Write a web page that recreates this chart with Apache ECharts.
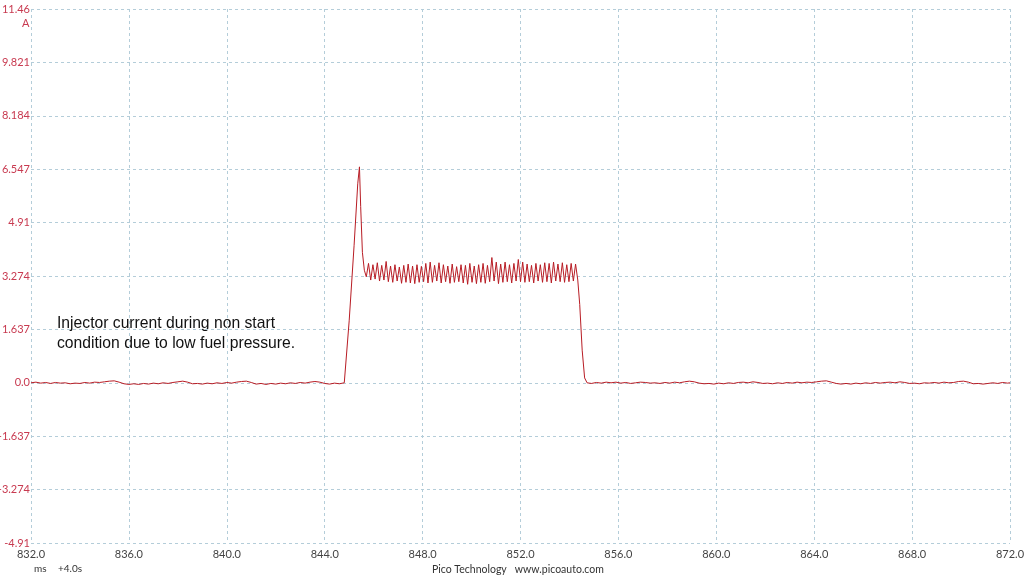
<!DOCTYPE html>
<html>
<head>
<meta charset="utf-8">
<script src="https://cdn.jsdelivr.net/npm/echarts@6/dist/echarts.min.js"></script>
<style>
html,body{margin:0;padding:0;background:#fff;}
#chart{width:1024px;height:576px;}
</style>
</head>
<body>
<div id="chart"></div>
<script>
// Time in ms (display offset +4.0s), current in A
const xMin = 832, xMax = 872, xStep = 4;
const yTickLabels = ['-4.91','-3.274','-1.637','0.0','1.637','3.274','4.91','6.547','8.184','9.821','11.46'];
const yStep = 1.637;

const preSamples = [
[832.0,0.00],[832.2,0.02],[832.4,-0.01],[832.6,0.01],[832.8,-0.02],[833.0,0.01],[833.2,-0.01],[833.4,0.00],
[833.6,-0.03],[833.8,-0.01],[834.0,-0.02],[834.2,0.01],[834.4,-0.01],[834.6,0.02],[834.8,0.01],[835.0,0.03],
[835.2,0.05],[835.4,0.06],[835.6,0.02],[835.8,-0.03],[836.0,-0.05],[836.2,-0.03],[836.4,-0.05],[836.6,-0.02],
[836.8,-0.04],[837.0,-0.01],[837.2,-0.03],[837.4,0.00],[837.6,-0.02],[837.8,0.01],[838.0,0.03],[838.2,0.05],
[838.4,0.02],[838.6,-0.03],[838.8,-0.02],[839.0,-0.04],[839.2,-0.01],[839.4,-0.03],[839.6,0.00],[839.8,-0.02],
[840.0,0.01],[840.2,-0.01],[840.4,0.02],[840.6,0.04],[840.8,0.05],[841.0,0.01],[841.2,-0.04],[841.4,-0.02],
[841.6,-0.05],[841.8,-0.02],[842.0,-0.04],[842.2,-0.01],[842.4,-0.03],[842.6,0.00],[842.8,-0.02],[843.0,0.01],
[843.2,-0.01],[843.4,0.02],[843.6,0.04],[843.8,0.02],[844.0,-0.02],[844.2,-0.04],[844.4,-0.01],[844.6,-0.03],
[844.8,0.00]
];

const riseSamples = [
[845.0,1.9],[845.2,4.2],[845.35,6.1],[845.42,6.62],[845.47,5.4],[845.54,4.0],[845.62,3.45]
];

const pulseSamples = [
[845.70,3.25],[845.79,3.66],[845.88,3.15],[845.97,3.62],[846.06,3.18],[846.15,3.68],[846.24,3.12],[846.33,3.60],
[846.42,3.15],[846.51,3.72],[846.60,3.10],[846.69,3.58],[846.78,3.08],[846.87,3.62],[846.96,3.12],[847.05,3.55],
[847.14,3.05],[847.23,3.60],[847.32,3.08],[847.41,3.64],[847.50,3.06],[847.59,3.58],[847.68,3.04],[847.77,3.62],
[847.86,3.08],[847.95,3.57],[848.04,3.10],[848.13,3.66],[848.22,3.06],[848.31,3.70],[848.40,3.08],[848.49,3.60],
[848.58,3.12],[848.67,3.68],[848.76,3.06],[848.85,3.62],[848.94,3.10],[849.03,3.58],[849.12,3.05],[849.21,3.64],
[849.30,3.08],[849.39,3.56],[849.48,3.10],[849.57,3.62],[849.66,3.06],[849.75,3.60],[849.84,3.02],[849.93,3.66],
[850.02,3.08],[850.11,3.58],[850.20,3.04],[850.29,3.62],[850.38,3.08],[850.47,3.66],[850.56,3.05],[850.65,3.60],
[850.74,3.10],[850.83,3.84],[850.92,3.12],[851.01,3.70],[851.10,3.04],[851.19,3.64],[851.28,3.08],[851.37,3.70],
[851.46,3.10],[851.55,3.62],[851.64,3.06],[851.73,3.66],[851.82,3.12],[851.91,3.78],[852.00,3.10],[852.09,3.70],
[852.18,3.08],[852.27,3.64],[852.36,3.10],[852.45,3.60],[852.54,3.06],[852.63,3.66],[852.72,3.12],[852.81,3.62],
[852.90,3.08],[852.99,3.68],[853.08,3.10],[853.17,3.66],[853.26,3.06],[853.35,3.70],[853.44,3.12],[853.53,3.64],
[853.62,3.10],[853.71,3.68],[853.80,3.08],[853.89,3.62],[853.98,3.10],[854.07,3.66],[854.16,3.12],[854.25,3.64],
[854.34,3.15]
];

const fallSamples = [
[854.42,2.4],[854.52,1.0],[854.62,0.15],[854.72,0.00]
];

const postSamples = [
[854.9,-0.02],[855.1,0.01],[855.3,-0.01],[855.5,0.02],[855.7,0.00],[855.9,0.02],[856.1,-0.01],[856.3,0.01],
[856.5,-0.02],[856.7,0.00],[856.9,0.02],[857.1,0.01],[857.3,-0.01],[857.5,0.00],[857.7,-0.02],[857.9,0.01],
[858.1,-0.01],[858.3,0.02],[858.5,0.00],[858.7,0.03],[858.9,0.05],[859.1,0.03],[859.3,-0.01],[859.5,-0.03],
[859.7,-0.02],[859.9,-0.04],[860.1,-0.01],[860.3,-0.03],[860.5,0.00],[860.7,-0.02],[860.9,0.01],[861.1,0.02],
[861.3,0.00],[861.5,0.03],[861.7,0.01],[861.9,-0.02],[862.1,-0.01],[862.3,-0.03],[862.5,0.00],[862.7,-0.02],
[862.9,0.01],[863.1,-0.01],[863.3,0.02],[863.5,0.00],[863.7,0.02],[863.9,0.01],[864.1,0.03],[864.3,0.05],
[864.5,0.06],[864.7,0.02],[864.9,-0.02],[865.1,-0.04],[865.3,-0.02],[865.5,-0.04],[865.7,-0.01],[865.9,-0.03],
[866.1,0.00],[866.3,-0.02],[866.5,0.01],[866.7,-0.01],[866.9,0.01],[867.1,0.02],[867.3,0.00],[867.5,0.03],
[867.7,0.01],[867.9,-0.02],[868.1,-0.01],[868.3,-0.03],[868.5,0.00],[868.7,-0.01],[868.9,0.01],[869.1,-0.01],
[869.3,0.02],[869.5,0.00],[869.7,0.01],[869.9,0.04],[870.1,0.05],[870.3,0.02],[870.5,-0.03],[870.7,-0.02],
[870.9,-0.04],[871.1,-0.02],[871.3,0.00],[871.5,-0.02],[871.7,0.01],[871.9,-0.01],[872.0,0.00]
];

const annotationLines = ['Injector current during non start', 'condition due to low fuel pressure.'];

const waveform = [].concat(preSamples, riseSamples, pulseSamples, fallSamples, postSamples);

const chart = echarts.init(document.getElementById('chart'), null, {renderer: 'canvas'});
const gridColor = '#b4cdd9';
const labelFont = 'Lato, "Noto Sans", sans-serif';
chart.setOption({
  animation: false,
  backgroundColor: '#ffffff',
  grid: {left: 31, right: 14, top: 9, bottom: 33, containLabel: false, outerBoundsMode: 'none'},
  xAxis: {
    type: 'value', min: xMin, max: xMax, interval: xStep,
    axisLine: {show: false}, axisTick: {show: false},
    splitLine: {show: true, lineStyle: {color: gridColor, type: [3, 3], width: 1}},
    axisLabel: {color: '#444444', fontSize: 11, fontFamily: labelFont, margin: 6,
      formatter: v => v.toFixed(1)}
  },
  yAxis: {
    type: 'value', min: -3 * yStep, max: 7 * yStep, interval: yStep,
    axisLine: {show: false}, axisTick: {show: false},
    splitLine: {show: true, lineStyle: {color: gridColor, type: [3, 3], width: 1}},
    axisLabel: {color: '#c83a50', fontSize: 11, fontFamily: labelFont, margin: 1,
      formatter: v => yTickLabels[Math.round(v / yStep) + 3] || ''}
  },
  series: [{
    type: 'line', data: waveform, showSymbol: false, smooth: false,
    lineStyle: {color: '#b81c24', width: 1}, z: 5
  }],
  graphic: [
    {type: 'text', left: 22, top: 18, style: {text: 'A', fill: '#c83a50', font: '11px Lato, sans-serif'}},
    {type: 'text', left: 34, top: 564, style: {text: 'ms', fill: '#333333', font: '10px Lato, sans-serif'}},
    {type: 'text', left: 58, top: 564, style: {text: '+4.0s', fill: '#333333', font: '10px Lato, sans-serif'}},
    {type: 'text', left: 432, top: 564, style: {text: 'Pico Technology   www.picoauto.com', fill: '#333333', font: '10.5px Lato, sans-serif'}},
    {type: 'text', left: 57, top: 314, style: {text: annotationLines.join('\n'), fill: '#111111', font: '15.7px "Liberation Sans", Arial, sans-serif', lineHeight: 20}}
  ]
});
</script>
</body>
</html>
